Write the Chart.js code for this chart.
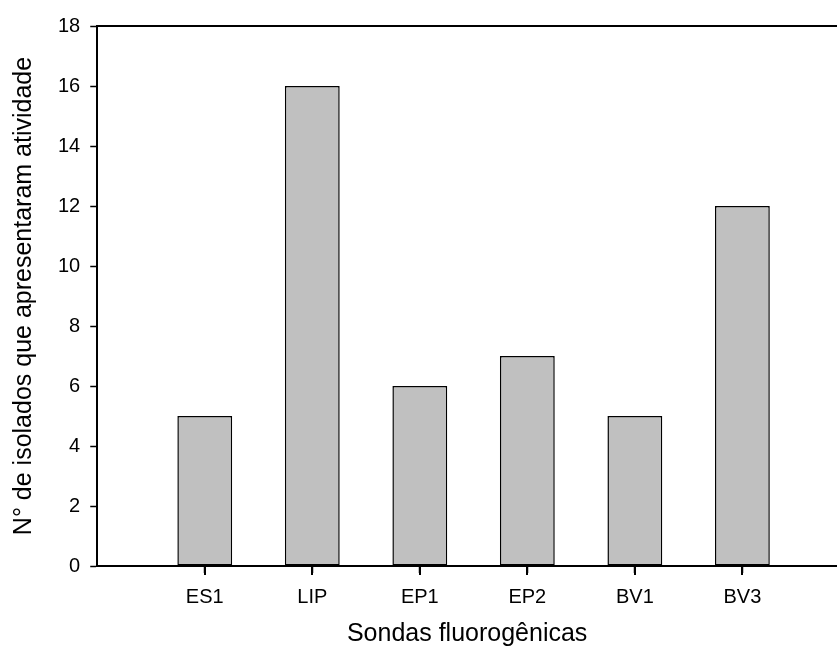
<!DOCTYPE html>
<html lang="pt">
  <head>
    <meta charset="UTF-8" />
    <title>Sondas fluorogênicas</title>
    <style>
      body {
        margin: 0;
        background: #ffffff;
      }
      .wrap {
        width: 837px;
        height: 655px;
        position: relative;
      }
    </style>
    <script src="https://cdn.jsdelivr.net/npm/chart.js"></script>
  </head>
  <body>
    <div class="wrap">
      <canvas id="chart"></canvas>
    </div>
    <script>
      const categories = ["ES1", "LIP", "EP1", "EP2", "BV1", "BV3"];
      const isolados = [5, 16, 6, 7, 5, 12];
      const yTicks = [0, 2, 4, 6, 8, 10, 12, 14, 16, 18];

      const FONT = "'Liberation Sans', Arial, sans-serif";
      const X_MAX = 6.88; // the axis runs past BV3 to the right edge

      // bars sit at x = 1..6, slot 0 is left empty like in the original
      const points = categories.map((c, i) => ({ x: i + 1, y: isolados[i] }));

      // small downward tick marks under each category
      const xTickMarks = {
        id: "xTickMarks",
        afterDraw(chart) {
          const s = chart.scales.x;
          const y0 = chart.chartArea.bottom;
          const c = chart.ctx;
          c.save();
          c.strokeStyle = "#000000";
          c.lineWidth = 2;
          categories.forEach((cat, i) => {
            const px = Math.round(s.getPixelForValue(i + 1));
            c.beginPath();
            c.moveTo(px, y0);
            c.lineTo(px, y0 + 9);
            c.stroke();
          });
          c.restore();
        },
      };

      const ctx = document.getElementById("chart").getContext("2d");
      new Chart(ctx, {
        type: "bar",
        data: {
          datasets: [
            {
              data: points,
              backgroundColor: "#c0c0c0",
              borderColor: "#000000",
              borderWidth: 1.5,
              borderSkipped: false,
              categoryPercentage: 1,
              barPercentage: 0.51,
            },
          ],
        },
        options: {
          responsive: true,
          maintainAspectRatio: false,
          animation: false,
          layout: { padding: { top: 26, left: 2, right: 0, bottom: 6 } },
          plugins: {
            legend: { display: false },
            tooltip: { enabled: false },
          },
          scales: {
            x: {
              type: "linear",
              min: 0,
              max: X_MAX,
              offset: false,
              afterBuildTicks: (axis) => {
                axis.ticks = categories.map((c, i) => ({ value: i + 1 }));
              },
              ticks: {
                callback: (v) => categories[v - 1] || "",
                color: "#000",
                font: { family: FONT, size: 20 },
                padding: 12,
                maxRotation: 0,
              },
              grid: {
                offset: false,
                drawOnChartArea: false,
                drawTicks: true,
                tickLength: 7,
                tickWidth: 1.5,
                tickColor: "#000",
              },
              border: { display: true, color: "#000", width: 2 },
              title: {
                display: true,
                text: "Sondas fluorogênicas",
                color: "#000",
                font: { family: FONT, size: 25 },
                padding: { top: -2, bottom: 0 },
              },
            },
            xTop: {
              type: "linear",
              position: "top",
              min: 0,
              max: X_MAX,
              offset: false,
              ticks: { display: false },
              grid: { display: false, drawTicks: false },
              border: { display: true, color: "#000", width: 2 },
            },
            y: {
              min: 0,
              max: 18,
              afterBuildTicks: (axis) => {
                axis.ticks = yTicks.map((v) => ({ value: v }));
              },
              ticks: {
                color: "#000",
                font: { family: FONT, size: 20 },
                padding: 10,
              },
              grid: {
                drawOnChartArea: false,
                drawTicks: true,
                tickLength: 7,
                tickWidth: 1.5,
                tickColor: "#000",
              },
              border: { display: true, color: "#000", width: 2 },
              title: {
                display: true,
                text: "N° de isolados que apresentaram atividade",
                color: "#000",
                font: { family: FONT, size: 25 },
                padding: { top: 7, bottom: 9 },
              },
            },
          },
        },
        plugins: [xTickMarks],
      });
    </script>
  </body>
</html>
